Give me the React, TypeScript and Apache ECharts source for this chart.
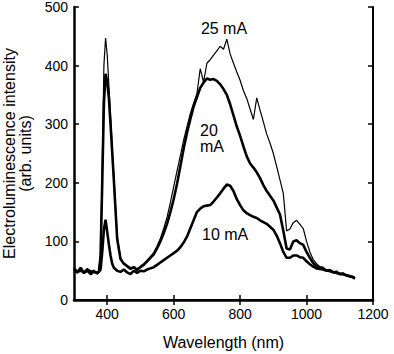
import React, { useEffect, useRef } from "react";
import * as echarts from "echarts";

const wavelengths = [
  300, 310, 320, 330, 340, 350, 360, 370, 375, 380, 385, 390, 395, 400, 405, 410, 415, 420,
  430, 440, 450, 460, 470, 480, 490, 500, 510, 520, 530, 540, 550, 560, 570, 580, 590, 600,
  610, 620, 630, 640, 650, 660, 670, 680, 690, 700, 710, 720, 730, 740, 750, 760, 770, 780,
  790, 800, 810, 820, 830, 840, 850, 860, 870, 880, 890, 900, 910, 920, 930, 940, 950, 960,
  970, 980, 990, 1000, 1010, 1020, 1030, 1040, 1050, 1060, 1070, 1080, 1090, 1100, 1110, 1120,
  1130, 1140, 1145,
];

const current25 = [
  56, 46, 52, 45, 54, 47, 51, 44, 50, 82, 230, 400, 447, 418, 366, 314, 262, 212,
  108, 72, 62, 56, 52, 55, 49, 58, 62, 68, 74, 81, 92, 105, 122, 141, 166, 193,
  220, 246, 273, 296, 318, 336, 352, 395, 372, 404, 410, 418, 425, 433, 428, 445, 420, 404,
  389, 375, 357, 344, 326, 308, 345, 324, 304, 283, 268, 250, 228, 205, 182, 118, 121, 132,
  136, 129, 122, 100, 82, 69, 62, 57, 56, 50, 52, 47, 49, 44, 46, 41, 42, 38, 36,
];

const current20 = [
  54, 48, 50, 47, 52, 49, 48, 46, 49, 75, 200, 335, 386, 372, 345, 300, 252, 204,
  104, 70, 62, 58, 54, 56, 52, 56, 60, 66, 72, 78, 88, 100, 114, 130, 150, 172,
  198, 228, 258, 285, 308, 330, 346, 362, 371, 378, 376, 377, 374, 368, 360, 350, 334, 315,
  296, 280, 262, 245, 233, 226, 218, 208, 196, 186, 178, 170, 158, 146, 118, 88, 86, 100,
  102, 97, 94, 82, 72, 63, 58, 55, 53, 51, 49, 48, 46, 45, 44, 42, 40, 39, 37,
];

const current10 = [
  52, 47, 55, 46, 50, 44, 49, 46, 48, 52, 82, 120, 137, 116, 95, 76, 62, 55,
  50, 48, 52, 47, 44, 50, 46, 50, 49, 52, 54, 56, 60, 64, 68, 72, 76, 80,
  84, 90, 98, 108, 122, 136, 150, 156, 160, 161, 162, 168, 175, 182, 190, 197, 195, 186,
  172, 162, 153, 148, 145, 142, 140, 136, 133, 130, 125, 120, 110, 97, 82, 72, 72, 76,
  76, 73, 72, 66, 61, 57, 54, 53, 52, 50, 51, 47, 48, 44, 45, 42, 41, 39, 37,
];

const xTickValues = [400, 600, 800, 1000, 1200];
const yTickValues = [0, 100, 200, 300, 400, 500];

const seriesNames = ["25 mA", "20 mA", "10 mA"];

export default function App() {
  const ref = useRef<HTMLDivElement>(null);
  useEffect(() => {
    if (!ref.current) return;
    const chart = echarts.init(ref.current, null, { renderer: "svg" });
    const font = "'Liberation Sans', Arial, Helvetica, sans-serif";
    const pair = (vals: number[]) => wavelengths.map((w, i) => [w, vals[i]]);
    const axisCommon = {
      type: "value" as const,
      splitLine: { show: false },
    };
    chart.setOption({
      animation: false,
      grid: { left: 74, right: 21, top: 7, bottom: 54, containLabel: false, outerBoundsMode: "none" },
      xAxis: [
        {
          ...axisCommon,
          min: 300,
          max: 1200,
          name: "Wavelength (nm)",
          nameLocation: "middle",
          nameGap: 34,
          nameTextStyle: { color: "#000", fontSize: 16, fontFamily: font },
          axisLine: { lineStyle: { color: "#000", width: 2.5 } },
          axisTick: { inside: true, length: 5, customValues: xTickValues, lineStyle: { color: "#000", width: 1.5 } },
          axisLabel: { customValues: xTickValues, formatter: (v: number) => String(v), color: "#000", fontSize: 14, fontFamily: font, margin: 7 },
        },
        {
          ...axisCommon,
          position: "top",
          min: 300,
          max: 1200,
          axisLine: { lineStyle: { color: "#000", width: 2 } },
          axisTick: { inside: true, length: 5, customValues: xTickValues, lineStyle: { color: "#000", width: 1.5 } },
          axisLabel: { show: false },
        },
      ],
      yAxis: [
        {
          ...axisCommon,
          min: 0,
          max: 500,
          interval: 100,
          name: "Electroluminescence intensity\n(arb. units)",
          nameLocation: "middle",
          nameGap: 41,
          nameTextStyle: { color: "#000", fontSize: 16, fontFamily: font, lineHeight: 16 },
          axisLine: { show: true, lineStyle: { color: "#000", width: 2.5 } },
          axisTick: { inside: true, length: 5, lineStyle: { color: "#000", width: 1.5 } },
          axisLabel: { customValues: yTickValues, formatter: (v: number) => String(v), color: "#000", fontSize: 14, lineHeight: 12, fontFamily: font, margin: 6 },
        },
        {
          ...axisCommon,
          position: "right",
          min: 0,
          max: 500,
          interval: 100,
          axisLine: { show: true, lineStyle: { color: "#000", width: 2 } },
          axisTick: { inside: true, length: 5, lineStyle: { color: "#000", width: 1.5 } },
          axisLabel: { show: false },
        },
      ],
      series: [
        { name: seriesNames[0], type: "line", data: pair(current25), showSymbol: false, lineStyle: { color: "#000", width: 1.2 } },
        { name: seriesNames[1], type: "line", data: pair(current20), showSymbol: false, lineStyle: { color: "#000", width: 2.6 } },
        { name: seriesNames[2], type: "line", data: pair(current10), showSymbol: false, lineStyle: { color: "#000", width: 2.6 } },
      ],
      graphic: [
        { type: "text", x: 224, y: 28, style: { text: "25 mA", fill: "#000", font: `16px ${font}`, align: "center", verticalAlign: "middle" } },
        { type: "text", x: 200, y: 138, style: { text: "20\nmA", fill: "#000", font: `16px ${font}`, align: "left", verticalAlign: "middle", lineHeight: 16 } },
        { type: "text", x: 202, y: 234, style: { text: "10 mA", fill: "#000", font: `16px ${font}`, align: "left", verticalAlign: "middle" } },
      ],
    });
    return () => chart.dispose();
  }, []);
  return <div ref={ref} style={{ position: "absolute", left: 0, top: 0, width: 394, height: 354 }} />;
}
